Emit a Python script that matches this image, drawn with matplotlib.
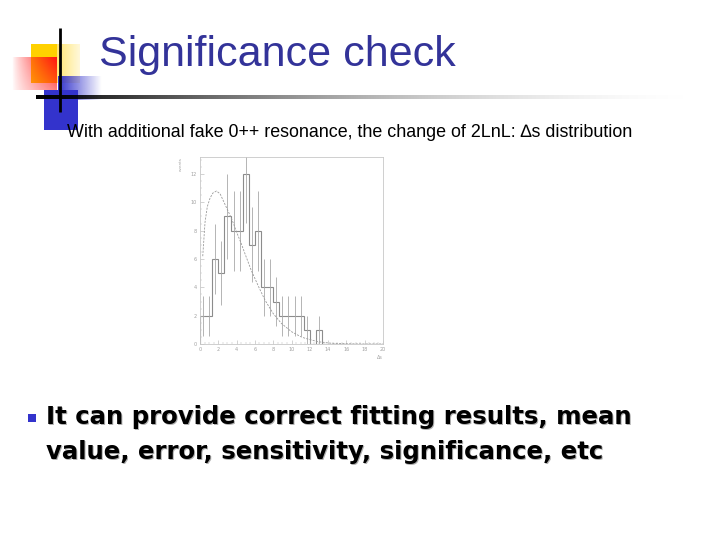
import numpy as np
import matplotlib
matplotlib.use("Agg")
import matplotlib.pyplot as plt
from matplotlib.patches import Rectangle

# histogram: 30 bins over 0..20 (delta s)
bin_edges = np.linspace(0, 20, 31)
counts = [2, 2, 6, 5, 9, 8, 8, 12, 7, 8, 4, 4, 3, 2, 2, 2, 2, 1, 0, 1,
          0, 0, 0, 0, 0, 0, 0, 0, 0, 0]

# fitted curve
curve_x = [0.3, 0.55, 0.8, 1.1, 1.4, 1.8, 2.2, 2.7, 3.2, 3.6, 4.0, 4.5, 4.9, 5.6,
           6.4, 7.1, 8.0, 8.9, 10.0, 11.0, 11.5, 12.9, 14.4, 16.5, 18.0, 20.0]
curve_y = [6.2, 8.6, 9.7, 10.3, 10.65, 10.8, 10.6, 9.9, 9.2, 8.6, 7.9, 7.1, 6.4, 5.2,
           4.05, 3.1, 2.15, 1.45, 0.87, 0.52, 0.4, 0.16, 0.05, 0.01, 0.0, 0.0]

title = "Significance check"
subtitle = "With additional fake 0++ resonance, the change of 2LnL: \u2206s distribution"
bullet_lines = ["It can provide correct fitting results, mean",
                "value, error, sensitivity, significance, etc"]

fig = plt.figure(figsize=(7.2, 5.4), dpi=100)

# slide background in pixel coords
bg = fig.add_axes([0, 0, 1, 1])
bg.set_xlim(0, 720)
bg.set_ylim(540, 0)
bg.axis("off")

def grad_rect(ax, x0, x1, y0, y1, rgb, a0, a1, z, p=1.0):
    n = 64
    img = np.zeros((1, n, 4))
    img[..., :3] = rgb
    img[..., 3] = np.linspace(0, 1, n) ** p * (a1 - a0) + a0
    ax.imshow(img, extent=[x0, x1, y1, y0], aspect="auto",
              interpolation="bilinear", zorder=z)

# decorative squares (back to front: yellow, blue, red, lines)
grad_rect(bg, 31, 80, 44, 83, (1.0, 0.82, 0.0), 1.0, 0.15, 1)
bg.add_patch(Rectangle((31, 44), 26, 39, color=(1.0, 0.82, 0.0), lw=0, zorder=1.1))
grad_rect(bg, 58, 102, 76, 100, (0.2, 0.2, 0.8), 1.0, 0.0, 1.2)
bg.add_patch(Rectangle((44, 90), 34, 40, color="#3333cc", lw=0, zorder=1.3))
n = 64
red = np.zeros((n, n, 4))
red[..., 0] = 1.0
red[..., 1] = 0.08
red[..., 2] = 0.08
red[..., 3] = np.linspace(0.0, 1.0, n)[None, :] ** 0.8 * np.linspace(1.0, 0.55, n)[:, None]
bg.imshow(red, extent=[12, 57, 90, 57], aspect="auto", interpolation="bilinear", zorder=1.4)

# horizontal rule fading out to the right
line = np.zeros((1, 256, 4))
line[..., 3] = np.linspace(1.0, 0.0, 256) ** 1.8
bg.imshow(line, extent=[36, 715, 99.5, 96], aspect="auto", interpolation="bilinear", zorder=2)
bg.plot([60, 60], [28, 112], color="black", lw=2.0, solid_capstyle="butt", zorder=2.1)

bg.text(99, 66, title, fontsize=31, color="#333399",
        family=["Liberation Sans", "DejaVu Sans"], va="baseline", ha="left")
bg.text(67, 137, subtitle, fontsize=12.9, color="black",
        family=["Liberation Sans", "DejaVu Sans"], va="baseline", ha="left")

# bullet
bg.add_patch(Rectangle((28, 414), 8, 8, color="#3333cc", lw=0))
for i, s in enumerate(bullet_lines):
    bg.text(47.3, 425.3 + 35 * i, s, fontsize=17.6, fontweight="bold", color="#b0b0b0",
            family="DejaVu Sans", va="baseline", ha="left", zorder=3)
    bg.text(46, 424 + 35 * i, s, fontsize=17.6, fontweight="bold", color="black",
            family="DejaVu Sans", va="baseline", ha="left", zorder=3.1)

# the small ROOT histogram
ax = fig.add_axes([200 / 720, 1 - 344 / 540, 183 / 720, 187 / 540])
grey = "#8c8c8c"
counts_arr = np.array(counts, dtype=float)
centers = 0.5 * (bin_edges[:-1] + bin_edges[1:])
ax.stairs(counts_arr, bin_edges, color=grey, lw=0.8)
nz = counts_arr > 0
ax.errorbar(centers[nz], counts_arr[nz], yerr=np.sqrt(counts_arr[nz]), fmt="none",
            ecolor="#a8a8a8", elinewidth=0.6, capsize=0)
ax.plot(curve_x, curve_y, color="#9a9a9a", lw=0.6, ls=(0, (2.5, 1.5)))
ax.set_xlim(0, 20)
ax.set_ylim(0, 13.2)
ax.set_xticks(np.arange(0, 21, 2))
ax.set_yticks(np.arange(0, 13, 2))
ax.set_xticks(np.arange(0, 20.1, 0.5), minor=True)
ax.set_yticks(np.arange(0, 13.2, 0.5), minor=True)
ax.tick_params(which="both", direction="in", colors="#b0b0b0", labelcolor="#a0a0a0",
               labelsize=3.5, pad=2)
ax.tick_params(which="major", length=3, width=0.4)
ax.tick_params(which="minor", length=1.5, width=0.3)
for sp in ax.spines.values():
    sp.set_color("#c8c8c8")
    sp.set_linewidth(0.6)
ax.set_ylabel("events", fontsize=3, color="#a0a0a0", loc="top", labelpad=6)
ax.set_xlabel("\u0394s", fontsize=3.5, color="#a0a0a0", loc="right", labelpad=2)
ax.set_facecolor("none")

fig.savefig("out.png", dpi=100)
